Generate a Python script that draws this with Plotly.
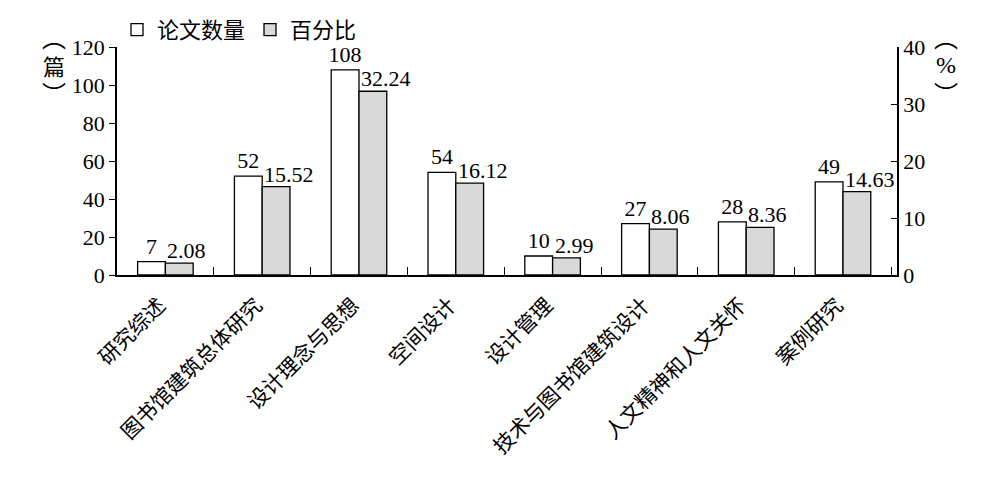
import plotly.graph_objects as go

categories = ["研究综述", "图书馆建筑总体研究", "设计理念与思想", "空间设计", "设计管理",
              "技术与图书馆建筑设计", "人文精神和人文关怀", "案例研究"]
counts = [7, 52, 108, 54, 10, 27, 28, 49]
percents = [2.08, 15.52, 32.24, 16.12, 2.99, 8.06, 8.36, 14.63]
count_labels = [str(v) for v in counts]
percent_labels = ["%.2f" % v for v in percents]

SERIF = "Liberation Serif, Times New Roman, serif"
CJK = "Noto Sans CJK SC"

fig = go.Figure()
fig.add_trace(go.Bar(
    x=categories, y=counts, name="论文数量", offsetgroup="a",
    marker=dict(color="white", line=dict(color="black", width=1.3)),
    text=count_labels, textposition="outside", cliponaxis=False, constraintext="none",
    textfont=dict(family=SERIF, size=22, color="black"), yaxis="y"))
fig.add_trace(go.Bar(
    x=categories, y=percents, name="百分比", offsetgroup="b",
    marker=dict(color="#d9d9d9", line=dict(color="black", width=1.3)),
    yaxis="y2"))

# percent labels: left-aligned at the grey bar's left edge
for c, v, t in zip(categories, percents, percent_labels):
    fig.add_annotation(x=c, y=v, xref="x", yref="y2", text=t, showarrow=False,
                       xanchor="left", yanchor="bottom", xshift=0, yshift=-2,
                       font=dict(family=SERIF, size=22, color="black"))

fig.update_layout(
    width=992, height=469,
    margin=dict(l=109, r=103, t=39, b=202, autoexpand=False),
    plot_bgcolor="white", paper_bgcolor="white",
    barmode="group", bargap=0.426, bargroupgap=0,
    font=dict(family=SERIF, size=20, color="black"),
    showlegend=True,
    legend=dict(orientation="h", x=0.0, y=1.075, xanchor="left", yanchor="middle",
                font=dict(family=CJK, size=22, color="black"),
                itemwidth=30, tracegroupgap=0, bgcolor="rgba(0,0,0,0)"),
    xaxis=dict(showline=True, linecolor="black", linewidth=1.5, automargin=False,
               ticks="inside", ticklen=8, tickcolor="black", tickson="boundaries",
               tickangle=-45, tickfont=dict(family=CJK, size=21, color="black"),
               ticklabelstandoff=8, ticklabelshift=-6,
               showgrid=False),
    yaxis=dict(range=[0, 120], dtick=20, showline=True, linecolor="black", linewidth=1.5,
               ticks="outside", ticklen=6, tickcolor="black", showgrid=False, automargin=False,
               zeroline=False, tickfont=dict(family=SERIF, size=22)),
    yaxis2=dict(range=[0, 40], dtick=10, overlaying="y", side="right",
                showline=True, linecolor="black", linewidth=1.5, automargin=False,
                ticks="inside", ticklen=6, tickcolor="black", showgrid=False,
                zeroline=False, tickfont=dict(family=SERIF, size=22)),
)

def unit_label(x, middle_text, middle_font):
    fig.add_annotation(text="︵", xref="paper", yref="paper",
                       x=x, y=1.045, xanchor="center", yanchor="middle", showarrow=False,
                       font=dict(family=CJK, size=24, color="black"))
    fig.add_annotation(text=middle_text, xref="paper", yref="paper",
                       x=x, y=0.922, xanchor="center", yanchor="middle", showarrow=False,
                       font=middle_font)
    fig.add_annotation(text="︶", xref="paper", yref="paper",
                       x=x, y=0.799, xanchor="center", yanchor="middle", showarrow=False,
                       font=dict(family=CJK, size=24, color="black"))

unit_label(-0.0808, "篇", dict(family=CJK, size=22, color="black"))
unit_label(1.0628, "%", dict(family=SERIF, size=24, color="black"))

fig.write_html("out.html")
